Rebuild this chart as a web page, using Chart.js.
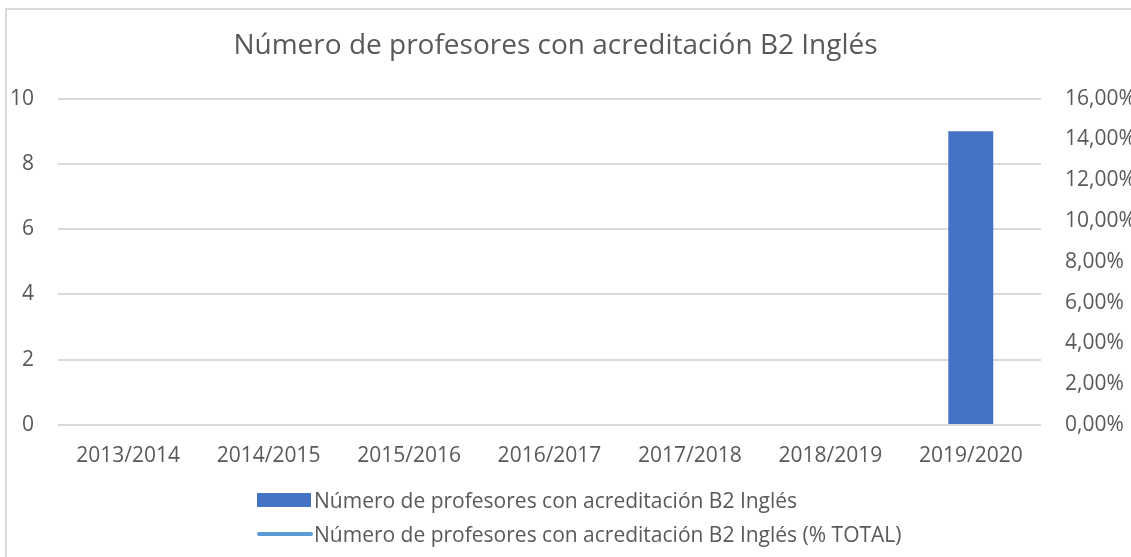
<!DOCTYPE html>
<html><head><meta charset="utf-8">
<script src="https://cdn.jsdelivr.net/npm/chart.js@4"></script>
<style>
html,body{margin:0;padding:0;background:#fff;width:1131px;height:557px;overflow:hidden;}
#frame{position:absolute;left:5px;top:8px;width:1140px;height:560px;border:2px solid #d9d9d9;box-sizing:border-box;}
#wrap{position:absolute;left:0;top:0;width:1131px;height:557px;}
#legend{position:absolute;left:257px;top:483px;font-family:"Open Sans";font-size:21px;color:#595959;}
.row{display:flex;align-items:center;height:34px;white-space:nowrap;}
.sw{width:57px;display:flex;align-items:center;justify-content:flex-start;}
.bar{width:54px;height:14px;background:#4472C4;}
.line{width:56px;height:4px;border-radius:2px;background:#5B9BD5;}
</style></head>
<body>
<div id="frame"></div>
<div id="wrap"><canvas id="c" width="1131" height="557"></canvas></div>
<div id="legend"></div>
<script>
const categories = ['2013/2014','2014/2015','2015/2016','2016/2017','2017/2018','2018/2019','2019/2020'];
const teachers = [0,0,0,0,0,0,9];
const teachersPct = [null,null,null,null,null,null,null];
const leftTicks = [0,2,4,6,8,10];
const titleText = 'Número de profesores con acreditación B2 Inglés';
const seriesNames = ['Número de profesores con acreditación B2 Inglés','Número de profesores con acreditación B2 Inglés (% TOTAL)'];

const FONT = 'Open Sans';
const GRAY = '#595959';

const titleShift = {
  id:'titleShift',
  afterLayout(chart){
    const tb = chart.titleBlock;
    if (tb) { tb.right -= 20; tb.width -= 20; }
  }
};

new Chart(document.getElementById('c'), {
  data: {
    labels: categories,
    datasets: [
      {type:'bar', label: seriesNames[0], data: teachers, backgroundColor:'#4472C4', borderWidth:0, yAxisID:'y', barPercentage:0.5, categoryPercentage:0.64, order:2},
      {type:'line', label: seriesNames[1], data: teachersPct, borderColor:'#5B9BD5', backgroundColor:'#5B9BD5', borderWidth:3, pointRadius:0, yAxisID:'y1', order:1}
    ]
  },
  plugins:[titleShift],
  options: {
    responsive:false, animation:false,
    layout:{padding:{top:0,left:0,right:0,bottom:0}},
    plugins:{
      legend:{display:false},
      tooltip:{enabled:false},
      title:{display:true, text:titleText, color:GRAY, font:{family:FONT, size:28, weight:'normal'}, padding:{top:29,bottom:36}}
    },
    scales:{
      x:{
        grid:{display:false}, border:{display:false},
        ticks:{color:GRAY, font:{family:FONT, size:21}, padding:10, maxRotation:0},
        afterFit(s){ s.height = 132; }
      },
      y:{
        position:'left', min:0, max:10,
        afterBuildTicks(s){ s.ticks = leftTicks.map(v=>({value:v})); },
        grid:{color:'#d9d9d9', lineWidth:2, drawTicks:false}, border:{display:false},
        ticks:{color:GRAY, font:{family:FONT, size:21}, padding:24},
        afterFit(s){ s.width = 58; }
      },
      y1:{
        position:'right', min:0, max:0.16,
        grid:{display:false, drawTicks:false}, border:{display:false},
        ticks:{stepSize:0.02, color:GRAY, font:{family:FONT, size:21}, padding:24,
          callback:(v)=> (v*100).toFixed(2).replace('.',',')+'%'},
        afterFit(s){ s.width = 90; }
      }
    }
  }
});

const lg = document.getElementById('legend');
seriesNames.forEach((n,i)=>{
  const r = document.createElement('div'); r.className='row';
  const sw = document.createElement('div'); sw.className='sw';
  const m = document.createElement('div'); m.className = i===0?'bar':'line';
  sw.appendChild(m);
  const t = document.createElement('span'); t.textContent = n;
  r.appendChild(sw); r.appendChild(t); lg.appendChild(r);
});
</script>
</body></html>
